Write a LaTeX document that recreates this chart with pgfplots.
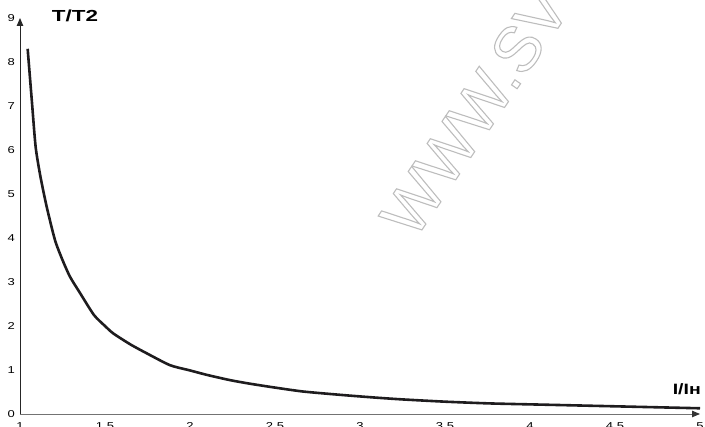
\documentclass[border=0pt]{standalone}
\usepackage{pgfplots}
\pgfplotsset{compat=1.18}
\usepackage{fontspec}
\setmainfont{Liberation Sans}
\usetikzlibrary{arrows.meta}
\begin{document}
\begin{tikzpicture}
\begin{axis}[
  name=ax, at={(0,0)}, anchor=south west,
  scale only axis, width=680pt, height=396pt,
  xmin=1, xmax=5, ymin=0, ymax=9,
  axis lines=left,
  clip=false,
  x axis line style={draw=black!55, line width=0.9pt, -{Triangle[length=8pt,width=6.5pt,color=black!80]}},
  y axis line style={draw=black!85, line width=0.9pt, -{Triangle[length=8pt,width=6.5pt]}},
  xtick={1,1.5,2,2.5,3,3.5,4,4.5,5},
  ytick={0,1,2,3,4,5,6,7,8,9},
  major tick length=0pt,
  /pgf/number format/assume math mode=true,
  xticklabel={\scalebox{1.3}[1]{\pgfmathprintnumber{\tick}}},
  yticklabel={\scalebox{1.3}[1]{\pgfmathprintnumber{\tick}}},
  xticklabel style={anchor=north, inner sep=0pt, yshift=-8pt, font=\fontsize{10}{12}\selectfont},
  yticklabel style={anchor=east, inner sep=0pt, xshift=-5pt, font=\fontsize{10}{12}\selectfont},
]
\node[rotate=56, anchor=base west, inner sep=0pt, font=\fontsize{64}{70}\selectfont]
  at (axis cs:3.32,3.93)
  {\special{pdf:literal direct 1 Tr 1.1 w 0.74 G}WWW.SV\special{pdf:literal direct 0 Tr}};
\addplot[color={rgb,255:red,30;green,28;blue,30}, line width=2.6pt, smooth, tension=0.4] coordinates {
(1.045,8.30) (1.070,7.10) (1.092,6.07) (1.120,5.40) (1.157,4.71) (1.206,3.95)
(1.250,3.50) (1.294,3.12) (1.353,2.75) (1.435,2.25) (1.500,2.00) (1.549,1.83)
(1.650,1.58) (1.745,1.38) (1.882,1.11) (2.000,0.99) (2.098,0.89) (2.235,0.77)
(2.350,0.69) (2.500,0.60) (2.667,0.51) (2.900,0.43) (3.100,0.37) (3.255,0.33)
(3.500,0.28) (3.765,0.24) (4.100,0.21) (4.550,0.17) (5.000,0.13)
};
\end{axis}
\node[anchor=center, inner sep=0pt, font=\fontsize{16}{18}\selectfont\bfseries]
  at ([xshift=55pt,yshift=2pt]ax.north west) {\scalebox{1.4}[1]{T/T2}};
\node[anchor=east, inner sep=0pt, font=\fontsize{15}{18}\selectfont\bfseries]
  at ([xshift=1pt,yshift=25pt]ax.south east) {\scalebox{1.3}[1]{I/Iн}};
\pgfresetboundingbox
\path[use as bounding box] ([xshift=-20pt,yshift=-13pt]ax.south west) rectangle ([xshift=5pt,yshift=18pt]ax.north east);
\end{tikzpicture}
\end{document}
